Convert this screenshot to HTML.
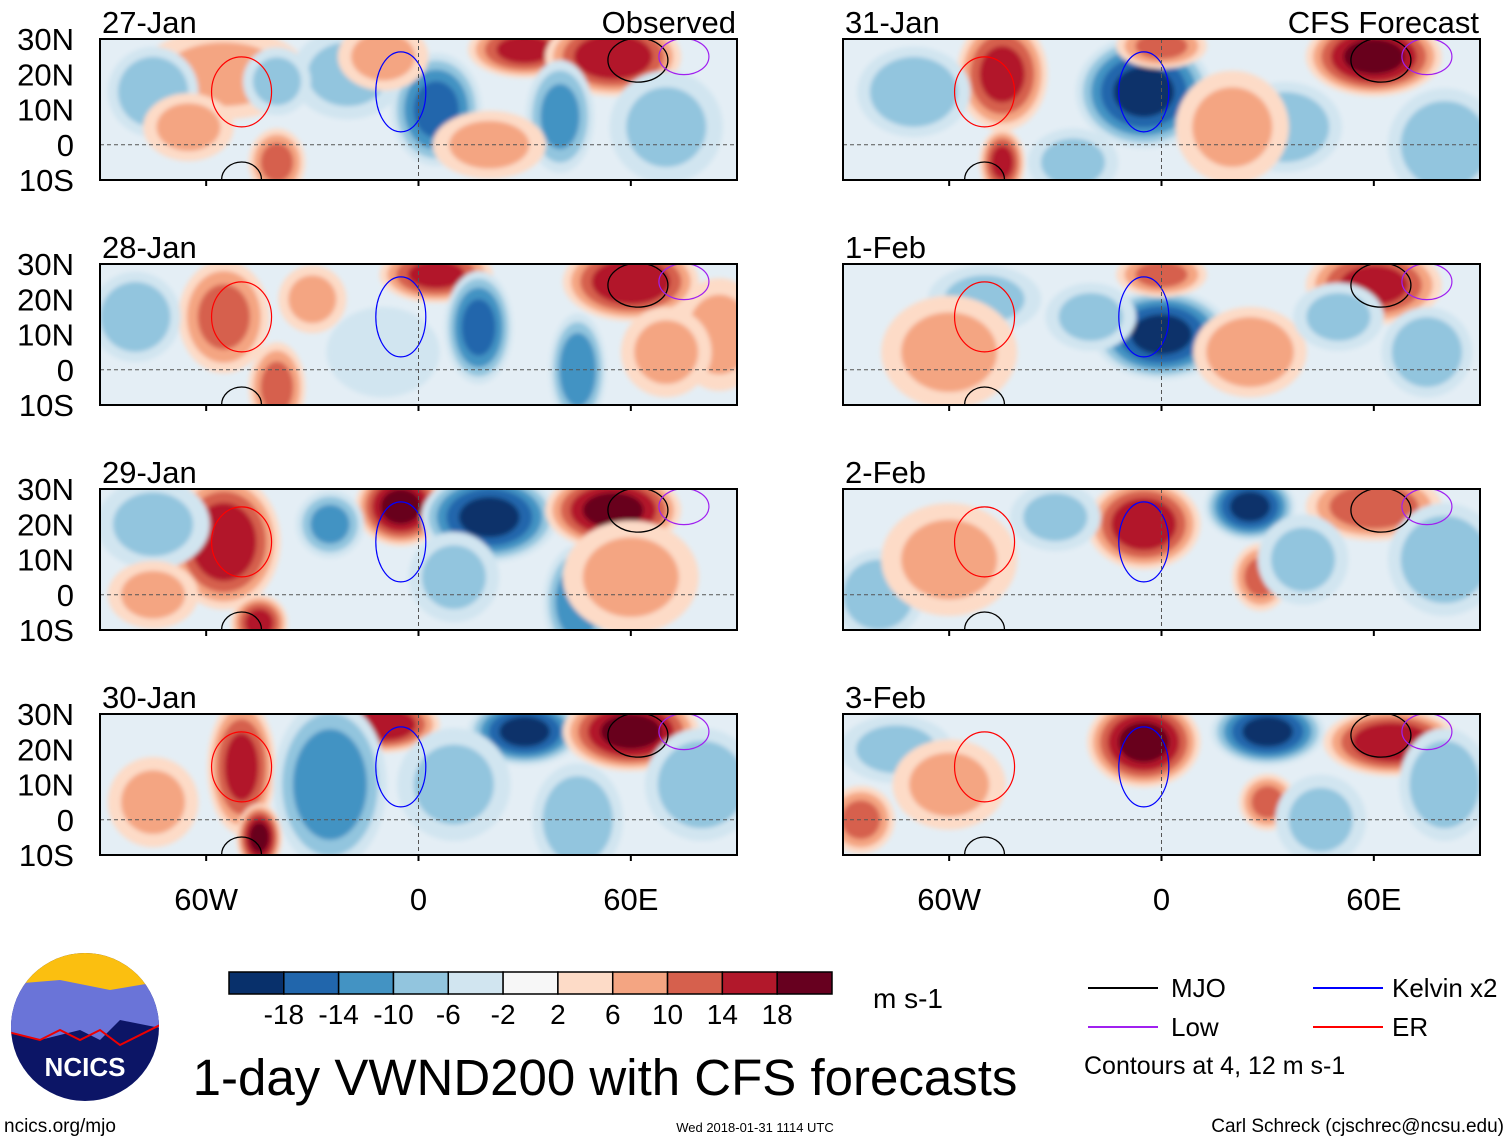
<!DOCTYPE html>
<html><head><meta charset="utf-8"><style>
body{margin:0;background:#fff;width:1510px;height:1142px;overflow:hidden;font-family:"Liberation Sans",sans-serif}
</style></head><body>
<svg id="s" width="1510" height="1142" xmlns="http://www.w3.org/2000/svg" font-family="Liberation Sans, sans-serif">
<defs><filter id="bl" x="-20%" y="-20%" width="140%" height="140%"><feGaussianBlur stdDeviation="2.5"/></filter></defs>
</svg>
<script>
const levels=[-18,-14,-10,-6,-2,2,6,10,14,18];
const colors=["#08306b","#2166ac","#4393c3","#92c5de","#d1e5f0","#f7f7f7","#fddbc7","#f4a582","#d6604d","#b2182b","#67001f"];
const panelTitles=["27-Jan","28-Jan","29-Jan","30-Jan","31-Jan","1-Feb","2-Feb","3-Feb"];
const latTicks=[30,20,10,0,-10];
const latLabels=["30N","20N","10N","0","10S"];
const lonTicks=[-60,0,60];
const lonLabels=["60W","0","60E"];
// blobs: [lon, lat, value, lonRadius, latRadius]
const blobs0=[[5,10,-14,8,10],[30,27,14,10,5],[55,25,16,12,7],[40,8,-10,6,10],[-40,-5,10,5,6],[-55,20,6,15,8],[-75,15,-8,8,8],[-20,20,-6,10,8],[-10,25,6,8,6],[70,5,-6,10,10],[-40,18,-6,6,6],[20,0,6,10,6],[-65,5,6,8,6]];
const blobs1=[[-55,15,10,8,10],[-40,-5,10,5,8],[5,27,14,10,5],[60,25,16,12,7],[17,12,-14,6,10],[45,0,-12,5,10],[-80,15,-8,8,8],[-10,5,-4,10,8],[85,10,6,8,10],[70,5,6,8,8],[-30,20,6,6,6]];
const blobs2=[[-55,15,16,10,12],[-45,-8,14,5,5],[-5,25,18,8,7],[20,22,-18,12,8],[55,24,18,12,7],[-25,20,-10,6,6],[45,-2,-12,6,10],[60,5,6,12,10],[-75,20,-6,10,8],[10,5,-6,8,8],[-75,0,6,8,6]];
const blobs3=[[-50,15,14,6,12],[-45,-5,18,4,6],[-10,27,16,10,5],[-25,10,-12,10,15],[30,25,-18,10,6],[60,25,18,12,7],[10,10,-6,10,10],[45,0,-8,8,10],[80,10,-8,10,10],[-75,5,6,8,8]];
const blobs4=[[-45,20,14,8,10],[-45,-5,14,4,6],[-5,15,-18,12,10],[0,28,10,8,4],[60,25,18,12,7],[35,5,-8,10,8],[20,5,6,10,10],[-70,15,-8,10,8],[80,0,-8,10,10],[-25,-5,-6,8,6]];
const blobs5=[[0,10,-18,12,8],[0,27,10,8,4],[60,24,14,12,7],[25,5,8,10,8],[-50,20,-6,10,6],[-60,5,6,12,10],[75,5,-8,8,8],[50,15,-6,8,6],[-20,15,-6,8,6]];
const blobs6=[[-5,20,16,10,8],[25,25,-18,8,6],[60,25,12,12,6],[28,5,10,5,6],[-80,0,-8,8,8],[80,10,-8,10,10],[-60,10,6,12,10],[-30,22,-6,8,6],[40,10,-6,8,8]];
const blobs7=[[-5,22,18,10,8],[30,25,-18,10,6],[65,22,16,12,6],[30,5,10,5,5],[-85,0,10,6,6],[-75,20,-6,10,6],[80,10,-8,8,10],[45,0,-6,8,8],[-60,10,6,10,8]];
const allBlobs=[blobs0,blobs1,blobs2,blobs3,blobs4,blobs5,blobs6,blobs7];

const NS="http://www.w3.org/2000/svg";
const svg=document.getElementById('s');
function el(t,a,p){const e=document.createElementNS(NS,t);for(const k in a)e.setAttribute(k,a[k]);(p||svg).appendChild(e);return e;}
function colorFor(v){let i=0;while(i<levels.length&&v>levels[i])i++;return colors[i];}
const PW=637,PH=141,RS=1.6;
const colX=[100,843],rowY=[39,264,489,714];
function xScale(px,lon){return px+(lon+90)/180*PW;}
function yScale(py,lat){return py+(30-lat)/40*PH;}

for(let p=0;p<8;p++){
  const px=colX[p<4?0:1],py=rowY[p%4];
  const g=el('g',{});
  
  
  const cid='c'+p;
  const cp=el('clipPath',{id:cid},g);el('rect',{x:px,y:py,width:PW,height:PH},cp);
  const inner=el('g',{'clip-path':'url(#'+cid+')'},g);
  el('rect',{x:px,y:py,width:PW,height:PH,fill:'#e4eef5'},inner);
  const fg=el('g',{filter:'url(#bl)'},inner);
  allBlobs[p].forEach(b=>{
    const [lon,lat,v,rl,rt]=b;const a=Math.abs(v),sg=Math.sign(v);
    const thr=[2,6,10,14,18].filter(t=>t<a+2);
    thr.forEach(t=>{
      const f=RS*Math.sqrt(Math.max(0.12,1-(t-2)/(a+2)));
      const e=el('ellipse',{cx:xScale(px,lon),cy:yScale(py,lat),rx:rl*f*PW/180,ry:rt*f*PH/40,fill:colorFor(sg*(t+0.5))},fg);
      
      
    });
  });
  el('ellipse',{cx:xScale(px,62),cy:yScale(py,24),rx:30,ry:22,fill:'none',stroke:'#000','stroke-width':1.3},inner);
  el('ellipse',{cx:xScale(px,-50),cy:yScale(py,-10),rx:20,ry:18,fill:'none',stroke:'#000','stroke-width':1.3},inner);
  el('ellipse',{cx:xScale(px,-5),cy:yScale(py,15),rx:25,ry:40,fill:'none',stroke:'#00f','stroke-width':1.2},inner);
  el('ellipse',{cx:xScale(px,-50),cy:yScale(py,15),rx:30,ry:35,fill:'none',stroke:'#f00','stroke-width':1.2},inner);
  el('ellipse',{cx:xScale(px,75),cy:yScale(py,25),rx:25,ry:18,fill:'none',stroke:'#a020f0','stroke-width':1.2},inner);
  el('line',{x1:px,x2:px+PW,y1:yScale(py,0),y2:yScale(py,0),stroke:'#555','stroke-dasharray':'4,3','stroke-width':1},inner);
  el('line',{x1:xScale(px,0),x2:xScale(px,0),y1:py,y2:py+PH,stroke:'#555','stroke-dasharray':'4,3','stroke-width':1},inner);
  el('rect',{x:px,y:py,width:PW,height:PH,fill:'none',stroke:'#000','stroke-width':2},g);
  lonTicks.forEach(l=>{el('line',{x1:xScale(px,l),x2:xScale(px,l),y1:py+PH,y2:py+PH+6,stroke:'#000','stroke-width':2},g);});
  const t=el('text',{x:px+2,y:py-6,'font-size':31},g);t.textContent=panelTitles[p];
  
  if(p==0||p==4){const r=el('text',{x:px+PW-1,y:py-6,'font-size':31,'text-anchor':'end'},g);r.textContent=p==0?'Observed':'CFS Forecast';
    }
  if(p<4){latTicks.forEach((l,i)=>{const tt=el('text',{x:74,y:yScale(py,l)+11,'font-size':31,'text-anchor':'end'},g);tt.textContent=latLabels[i];
    });}
  if(p%4==3){lonTicks.forEach((l,i)=>{const tt=el('text',{x:xScale(px,l),y:910,'font-size':31,'text-anchor':'middle'},g);tt.textContent=lonLabels[i];
    });}
}
const cb=el('g',{});
const bw=603/colors.length;
colors.forEach((c,i)=>el('rect',{x:229+i*bw,y:972,width:bw,height:22,fill:c,stroke:'#000','stroke-width':1.5},cb));
levels.forEach((l,i)=>{const t=el('text',{x:229+(i+1)*bw,y:1024,'font-size':28,'text-anchor':'middle'},cb);t.textContent=l;});
const u=el('text',{x:873,y:1008,'font-size':28},cb);u.textContent='m s-1';
</script>
<svg style="position:absolute;left:0;top:0" width="1510" height="1142" font-family="Liberation Sans, sans-serif">
<g>
<clipPath id="lc"><circle cx="85" cy="1027" r="74"/></clipPath>
<g clip-path="url(#lc)"><rect x="0" y="950" width="170" height="160" fill="#0c1566"/><rect x="0" y="950" width="170" height="40" fill="#fbbf10"/>
<path d="M0 985 L60 980 L110 990 L170 980 L170 1030 L120 1020 L100 1040 L80 1030 L40 1040 L0 1030Z" fill="#6a74d8"/>
<path d="M0 1030 L40 1040 L60 1030 L80 1040 L100 1030 L120 1045 L170 1020" fill="none" stroke="#e00" stroke-width="2"/></g>
<text x="85" y="1076" font-size="26" font-weight="bold" fill="#fff" text-anchor="middle">NCICS</text></g>
<text x="4" y="1132" font-size="19">ncics.org/mjo</text>
<text x="605" y="1095" font-size="51" text-anchor="middle">1-day VWND200 with CFS forecasts</text>
<text x="755" y="1132" font-size="13" text-anchor="middle">Wed 2018-01-31 1114 UTC</text>
<text x="1504" y="1132" font-size="19" text-anchor="end">Carl Schreck (cjschrec@ncsu.edu)</text>
<g font-size="26">
<line x1="1088" x2="1158" y1="988" y2="988" stroke="#000" stroke-width="2"/><text x="1171" y="997">MJO</text>
<line x1="1313" x2="1383" y1="988" y2="988" stroke="#00f" stroke-width="2"/><text x="1392" y="997">Kelvin x2</text>
<line x1="1088" x2="1158" y1="1027" y2="1027" stroke="#a020f0" stroke-width="2"/><text x="1171" y="1036">Low</text>
<line x1="1313" x2="1383" y1="1027" y2="1027" stroke="#f00" stroke-width="2"/><text x="1392" y="1036">ER</text>
<text x="1084" y="1074" font-size="25">Contours at 4, 12 m s-1</text></g>
</svg>
</body></html>
